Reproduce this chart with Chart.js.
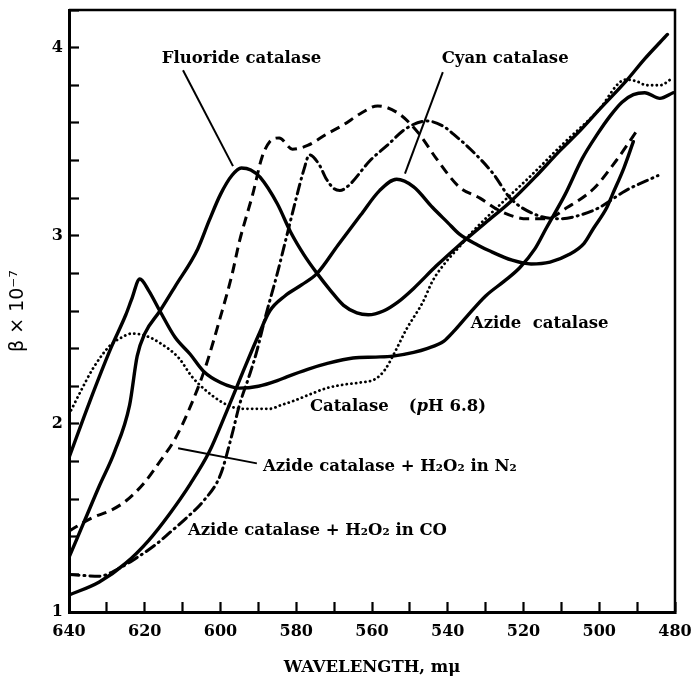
<!DOCTYPE html>
<html>
<head>
<meta charset="utf-8">
<script src="https://cdn.jsdelivr.net/npm/chart.js@4.4.1/dist/chart.umd.min.js"></script>
<style>
  body { margin: 0; background: #fff; }
</style>
</head>
<body>
<canvas id="chartSpectra" width="691" height="681"></canvas>
<script>
// wavelength (m\u03bc) and beta x 10^-7 for each preparation
const fluorideNm = [640, 636, 632, 628, 624, 622, 620, 616, 612, 606, 603, 600, 597, 594.5, 592, 589.5, 585, 581.5, 578, 574.5, 571, 567.5, 564, 561, 557, 553, 549, 543, 537, 530, 523.5, 517, 510.5, 505, 500, 493, 488, 482];
const fluorideBeta = [1.29, 1.48, 1.67, 1.85, 2.10, 2.36, 2.48, 2.60, 2.73, 2.93, 3.08, 3.22, 3.32, 3.36, 3.35, 3.31, 3.17, 3.02, 2.90, 2.80, 2.71, 2.63, 2.59, 2.58, 2.60, 2.65, 2.72, 2.84, 2.95, 3.07, 3.18, 3.31, 3.45, 3.56, 3.67, 3.82, 3.94, 4.07];

const cyanNm = [640, 632, 625, 619, 613.5, 608, 603, 598.5, 594, 590, 587, 583, 578.5, 574.5, 569, 563, 558, 553.5, 549, 544, 540, 537, 532, 529, 523, 518, 513, 508, 504, 501.5, 498, 496.5, 493.5, 491];
const cyanBeta = [1.09, 1.16, 1.26, 1.38, 1.52, 1.68, 1.85, 2.06, 2.28, 2.47, 2.60, 2.68, 2.74, 2.80, 2.95, 3.11, 3.24, 3.30, 3.26, 3.15, 3.07, 3.01, 2.95, 2.92, 2.87, 2.85, 2.86, 2.90, 2.96, 3.04, 3.15, 3.22, 3.36, 3.50];

const azideNm = [640, 634.5, 629, 625, 623.5, 621.3, 619, 616, 612, 608, 604.5, 600, 595, 590, 585, 582.5, 577, 572, 565, 559, 554.5, 549, 545.5, 541, 538.5, 535, 530, 525, 521, 517, 514, 509, 504.5, 500.5, 497, 494, 491, 488, 484, 480.5];
const azideBeta = [1.82, 2.12, 2.40, 2.58, 2.66, 2.77, 2.71, 2.60, 2.46, 2.37, 2.28, 2.22, 2.19, 2.20, 2.23, 2.25, 2.29, 2.32, 2.35, 2.355, 2.36, 2.38, 2.40, 2.44, 2.49, 2.57, 2.68, 2.76, 2.83, 2.93, 3.04, 3.22, 3.41, 3.54, 3.64, 3.71, 3.75, 3.76, 3.73, 3.76];

const catalaseNm = [640, 637, 633.5, 629, 626, 623.5, 620, 616, 611, 607.5, 604, 600, 597, 594, 590, 587, 584, 581, 576, 572, 567, 563, 559, 556.5, 554, 551, 546.5, 544, 540.5, 537, 534, 527, 518.5, 509.5, 500.5, 493, 490, 487.5, 484, 480.5];
const catalaseBeta = [2.05, 2.17, 2.30, 2.42, 2.46, 2.48, 2.47, 2.43, 2.35, 2.25, 2.18, 2.12, 2.09, 2.08, 2.08, 2.08, 2.10, 2.12, 2.16, 2.19, 2.21, 2.22, 2.24, 2.29, 2.38, 2.50, 2.65, 2.76, 2.86, 2.94, 3.01, 3.15, 3.31, 3.49, 3.66, 3.83, 3.82, 3.80, 3.80, 3.84];

const azideN2Nm = [640, 634, 629, 625, 620, 616, 612, 608, 604, 600, 597, 595, 591.5, 589, 587, 584.5, 581, 577, 572, 567.5, 563, 558.5, 553, 547.5, 543, 537, 531.5, 526, 519, 514, 508.5, 501.5, 495.5, 490];
const azideN2Beta = [1.43, 1.50, 1.54, 1.59, 1.69, 1.80, 1.92, 2.09, 2.30, 2.57, 2.79, 2.97, 3.22, 3.42, 3.50, 3.52, 3.46, 3.48, 3.54, 3.59, 3.65, 3.69, 3.65, 3.54, 3.41, 3.26, 3.20, 3.13, 3.09, 3.09, 3.15, 3.25, 3.40, 3.56];

const azideCoNm = [640, 632, 627, 622, 617, 613.5, 609, 604.5, 600, 597, 595, 592.5, 590.5, 588, 585, 582.5, 580, 578, 576.5, 574, 572, 570, 568.5, 566, 560.5, 556, 551, 545.5, 541, 538.5, 534, 528, 523.5, 516.5, 510.5, 505, 500, 493, 484.5];
const azideCoBeta = [1.20, 1.19, 1.23, 1.29, 1.36, 1.42, 1.50, 1.59, 1.73, 1.94, 2.10, 2.25, 2.38, 2.58, 2.80, 3.00, 3.20, 3.35, 3.43, 3.38, 3.30, 3.25, 3.24, 3.27, 3.40, 3.48, 3.57, 3.61, 3.58, 3.54, 3.46, 3.33, 3.20, 3.11, 3.09, 3.11, 3.15, 3.24, 3.32];

const xTicks = [640, 620, 600, 580, 560, 540, 520, 500, 480];
const yTicks = [1, 2, 3, 4];

const serif = '"DejaVu Serif", "Liberation Serif", serif';

function pairs(nm, beta) {
    return nm.map((w, i) => ({ x: w, y: beta[i] }));
}

function curve(nm, beta, dash, width, cap) {
    return {
        data: pairs(nm, beta),
        borderColor: '#000',
        borderWidth: width,
        borderDash: dash,
        borderCapStyle: cap || 'butt',
        borderJoinStyle: 'round',
        pointRadius: 0,
        fill: false,
        cubicInterpolationMode: 'monotone'
    };
}

// box around the plot (top and right sides)
const frame = {
    id: 'frame',
    afterDraw(chart) {
        const { ctx, chartArea: a } = chart;
        ctx.save();
        ctx.strokeStyle = '#000';
        ctx.lineWidth = 2.5;
        ctx.beginPath();
        ctx.moveTo(a.left, a.top);
        ctx.lineTo(a.right, a.top);
        ctx.lineTo(a.right, a.bottom);
        ctx.stroke();
        ctx.restore();
    }
};

// curve names with their leader lines, placed in data units
const curveLabels = {
    id: 'curveLabels',
    afterDatasetsDraw(chart) {
        const { ctx } = chart;
        const x = chart.scales.x, y = chart.scales.y;
        const px = v => x.getPixelForValue(v);
        const py = v => y.getPixelForValue(v);
        const bold = 'bold 16.5px ' + serif;

        ctx.save();
        ctx.fillStyle = '#000';
        ctx.strokeStyle = '#000';
        ctx.textBaseline = 'middle';
        ctx.textAlign = 'left';
        ctx.font = bold;

        const text = (s, w, b) => ctx.fillText(s, px(w), py(b));
        text('Fluoride catalase', 615.5, 3.94);
        text('Cyan catalase', 541.6, 3.94);
        text('Azide  catalase', 533.9, 2.53);
        text('Azide catalase + H\u2082O\u2082 in N\u2082', 588.8, 1.77);
        text('Azide catalase + H\u2082O\u2082 in CO', 608.6, 1.43);

        // Catalase (pH 6.8) with an italic p
        let cx = px(576.4);
        const cy = py(2.09);
        ctx.fillText('Catalase', cx, cy);
        cx += ctx.measureText('Catalase').width + 20;
        ctx.fillText('(', cx, cy);
        cx += ctx.measureText('(').width;
        ctx.font = 'italic bold 16.5px ' + serif;
        ctx.fillText('p', cx, cy);
        cx += ctx.measureText('p').width;
        ctx.font = bold;
        ctx.fillText('H 6.8)', cx, cy);

        ctx.lineWidth = 2;
        const lead = (w1, b1, w2, b2) => {
            ctx.beginPath();
            ctx.moveTo(px(w1), py(b1));
            ctx.lineTo(px(w2), py(b2));
            ctx.stroke();
        };
        lead(609.9, 3.88, 596.7, 3.37);
        lead(541.3, 3.87, 551.3, 3.33);
        lead(611.2, 1.87, 590.4, 1.79);
        ctx.restore();
    }
};

const ctxSpectra = document.getElementById('chartSpectra');
const chartSpectra = new Chart(ctxSpectra, {
    type: 'line',
    data: {
        datasets: [
            curve(fluorideNm, fluorideBeta, [], 3.4, 'round'),
            curve(cyanNm, cyanBeta, [], 3.4, 'round'),
            curve(azideNm, azideBeta, [], 3.4, 'round'),
            curve(catalaseNm, catalaseBeta, [0.1, 4.6], 2.8, 'round'),
            curve(azideN2Nm, azideN2Beta, [10, 6], 3, 'butt'),
            curve(azideCoNm, azideCoBeta, [10, 5, 1, 5], 3, 'round')
        ]
    },
    options: {
        responsive: false,
        animation: false,
        layout: { padding: { top: 10, right: 16, left: 0, bottom: 0 } },
        plugins: {
            legend: { display: false },
            tooltip: { enabled: false }
        },
        scales: {
            x: {
                type: 'linear',
                reverse: true,
                min: 480,
                max: 640,
                afterFit: s => {
                    s.height = 69;
                    s.paddingLeft = 0;
                    s.paddingRight = 0;
                },
                afterBuildTicks: s => {
                    s.ticks = [];
                    for (let w = 640; w >= 480; w -= 10) s.ticks.push({ value: w });
                },
                ticks: {
                    autoSkip: false,
                    maxRotation: 0,
                    padding: 20,
                    color: '#000',
                    font: { family: serif, weight: 'bold', size: 16 },
                    callback: v => xTicks.includes(v) ? String(v) : ''
                },
                grid: {
                    drawOnChartArea: false,
                    drawTicks: true,
                    tickLength: -10,
                    tickWidth: 2.2,
                    tickColor: '#000'
                },
                border: { display: true, color: '#000', width: 3 },
                title: {
                    display: true,
                    text: 'WAVELENGTH, m\u03bc',
                    color: '#000',
                    font: { family: serif, weight: 'bold', size: 16.5 },
                    padding: { top: 0, bottom: 3 }
                }
            },
            y: {
                type: 'linear',
                min: 1,
                max: 4.2,
                afterFit: s => {
                    s.width = 69;
                    s.paddingTop = 0;
                    s.paddingBottom = 0;
                },
                afterBuildTicks: s => {
                    s.ticks = [];
                    for (let i = 0; i <= 16; i++) s.ticks.push({ value: 1 + i * 0.2 });
                },
                ticks: {
                    autoSkip: false,
                    padding: 16,
                    color: '#000',
                    font: { family: serif, weight: 'bold', size: 16 },
                    callback: v => {
                        const r = Math.round(v);
                        return Math.abs(v - r) < 1e-6 && yTicks.includes(r) ? String(r) : '';
                    }
                },
                grid: {
                    drawOnChartArea: false,
                    drawTicks: true,
                    tickLength: -10,
                    tickWidth: 2.2,
                    tickColor: '#000'
                },
                border: { display: true, color: '#000', width: 3 },
                title: {
                    display: true,
                    text: '\u03b2 \u00d7 10\u207b\u2077',
                    color: '#000',
                    font: { family: '"DejaVu Sans", sans-serif', size: 19 },
                    padding: { top: 7, bottom: 0 }
                }
            }
        }
    },
    plugins: [frame, curveLabels]
});
</script>
</body>
</html>
